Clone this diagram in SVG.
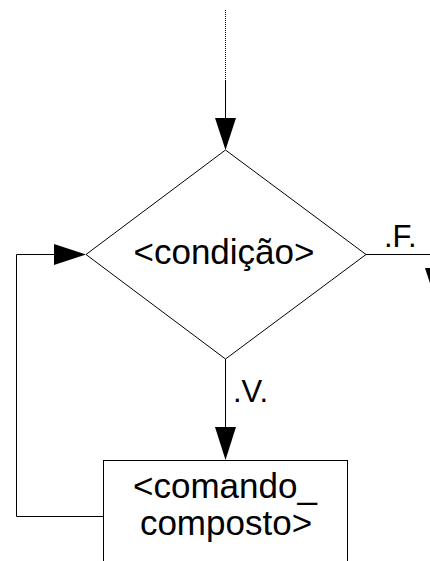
<svg xmlns="http://www.w3.org/2000/svg" width="430" height="561" viewBox="0 0 430 561">
<style>
.ln{fill:none;stroke:#000;stroke-width:1}
.sh{fill:#fff;stroke:#000;stroke-width:1}
.t{font-family:"Liberation Sans",Arial,sans-serif;font-size:35px;fill:#000}
.s{font-size:31px}
.ah{fill:#000;stroke:none}
</style>
<rect width="430" height="561" fill="#fff"/>
<g id="connectors">
<line class="ln" x1="225.5" y1="10" x2="225.5" y2="80" stroke-dasharray="1,1"/>
<line class="ln" x1="225.5" y1="80" x2="225.5" y2="120"/>
<polygon class="ah" points="215,118 236,118 225.5,150"/>
<polyline class="ln" points="366,254.5 440,254.5"/>
<polygon class="ah" points="425,268 446,268 435.5,300"/>
<line class="ln" x1="225.5" y1="359" x2="225.5" y2="430"/>
<polygon class="ah" points="215,427 236,427 225.5,460"/>
<polyline class="ln" points="103,516.5 16.5,516.5 16.5,254.5 56,254.5"/>
<polygon class="ah" points="54,244 86,254.5 54,265"/>
<text class="t s" x="384" y="247">.F.</text>
<text class="t s" x="233" y="402">.V.</text>
</g>
<g id="condicao">
<polygon class="sh" points="225.5,150 366,254.5 225.5,359 86,254.5"/>
<text class="t" x="224" y="264" text-anchor="middle">&lt;condição&gt;</text>
</g>
<g id="comando">
<rect class="sh" x="103.5" y="460.5" width="244" height="120"/>
<text class="t" text-anchor="middle"><tspan x="225" y="498">&lt;comando_</tspan><tspan x="226" y="535">composto&gt;</tspan></text>
</g>
</svg>
